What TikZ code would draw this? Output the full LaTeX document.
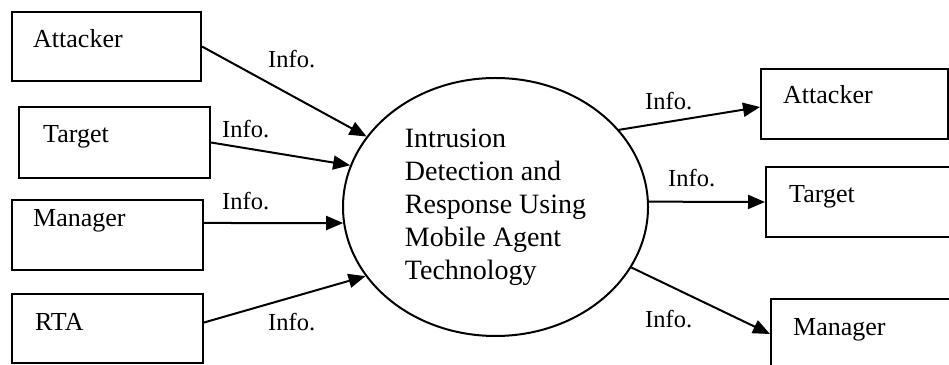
\documentclass[tikz,border=0pt]{standalone}
\usepackage{fontspec}
\setmainfont{Liberation Serif}
\usetikzlibrary{arrows.meta,shapes.geometric}
\begin{document}
\begin{tikzpicture}[x=1pt,y=1pt,
  box/.style={draw,line width=2pt,rectangle,inner sep=0pt},
  lbl/.style={anchor=base west,inner sep=0pt,font=\fontsize{26}{30}\selectfont},
  info/.style={anchor=base west,inner sep=0pt,font=\fontsize{24.5}{28}\selectfont},
  flow/.style={line width=2pt,-{Triangle[length=17pt,width=14pt]}}
]
\clip (0,0) rectangle (949,364);
\fill[white] (0,0) rectangle (949,364);
% left boxes
\node[box,minimum width=189pt,minimum height=69pt] (al) at (106.5,317.5) {};
\node[box,minimum width=191pt,minimum height=71pt] (tl) at (114.5,221.5) {};
\node[box,minimum width=191pt,minimum height=70pt] (ml) at (107.5,129) {};
\node[box,minimum width=191pt,minimum height=69pt] (rl) at (107.5,35.5) {};
% right boxes
\node[box,minimum width=187pt,minimum height=70pt] (ar) at (854.5,260) {};
\node[box,minimum width=190pt,minimum height=70pt] (tr) at (861,162) {};
\node[box,minimum width=190pt,minimum height=70pt] (mr) at (866,30) {};
% box texts
\node[lbl] (alt) at (33,316) {Attacker};
\node[lbl] (tlt) at (43,221) {Target};
\node[lbl] (mlt) at (33,137) {Manager};
\node[lbl] (rlt) at (35,34) {RTA};
\node[lbl] (art) at (783,260) {Attacker};
\node[lbl] (trt) at (789,161) {Target};
\node[lbl] (mrt) at (793,29) {Manager};
% central process
\node[draw,ellipse,line width=2pt,minimum width=305pt,minimum height=258pt,
      inner sep=0pt,align=left,font=\fontsize{28}{33}\selectfont] (ell) at (495.5,157)
  {Intrusion\\Detection and\\Response Using\\Mobile Agent\\Technology};
% connectors
\draw[flow] (al.east) -- (ell);
\draw[flow] (tl.east) -- (ell.164);
\draw[flow] ([yshift=12pt]ml.east) -- (ell.186);
\draw[flow] ([yshift=6pt]rl.east) -- (ell.208);
\draw[flow] (ell.32) -- ([yshift=-3pt]ar.west);
\draw[flow] (ell.2) -- (tr.west);
\draw[flow] (ell.-24) -- (mr.west);
% labels
\node[info] (i1) at (268,296) {Info.};
\node[info] (i2) at (222,226) {Info.};
\node[info] (i3) at (222,154) {Info.};
\node[info] (i4) at (268,34) {Info.};
\node[info] (i5) at (645,254) {Info.};
\node[info] (i6) at (668,177) {Info.};
\node[info] (i7) at (645,37) {Info.};
\end{tikzpicture}
\end{document}
